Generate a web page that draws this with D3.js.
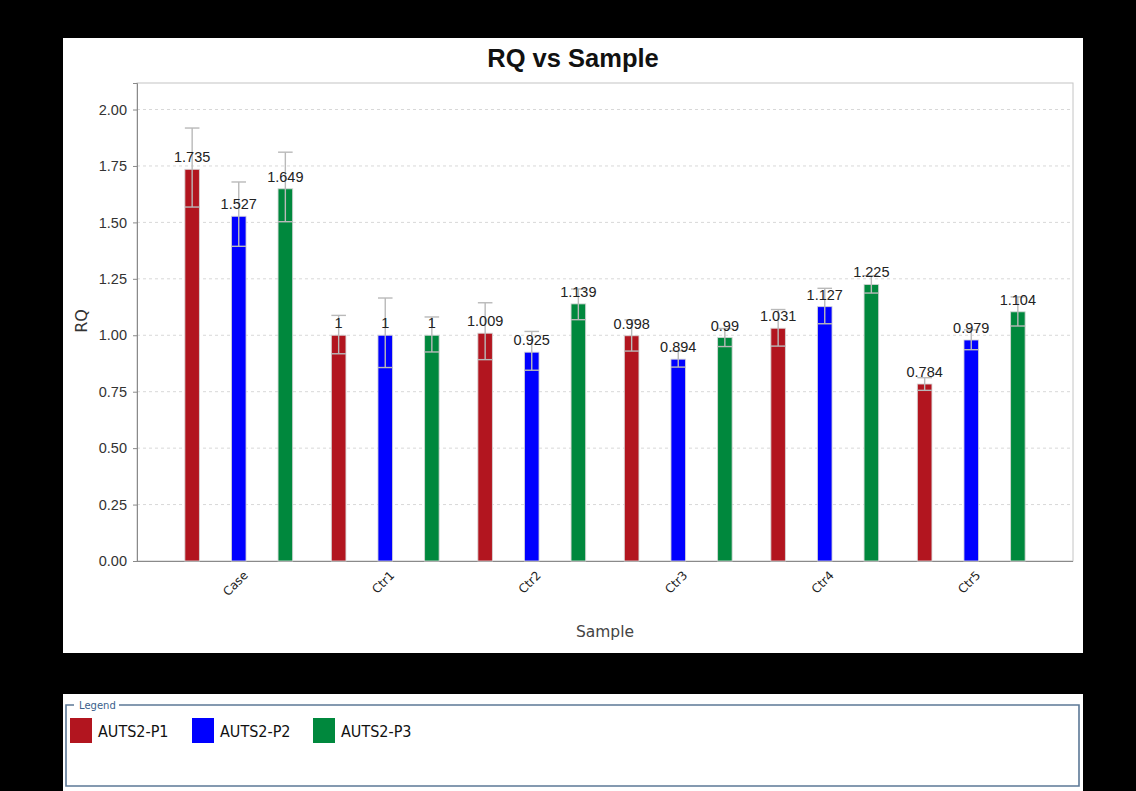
<!DOCTYPE html>
<html>
<head>
<meta charset="utf-8">
<script src="https://cdn.jsdelivr.net/npm/d3@7"></script>
<style>
  html, body { margin: 0; padding: 0; background: #000; }
  svg { display: block; }
</style>
</head>
<body>
<svg id="chart" width="1136" height="791"></svg>
<script>
// Samples along the x axis
const categories = ["Case", "Ctr1", "Ctr2", "Ctr3", "Ctr4", "Ctr5"];
// Targets (one bar per target in each sample)
const seriesNames = ["AUTS2-P1", "AUTS2-P2", "AUTS2-P3"];
const seriesColors = ["#b2151f", "#0000ff", "#00883d"];

// RQ values per target, in category order
const rqP1 = [1.735, 1, 1.009, 0.998, 1.031, 0.784];
const rqP2 = [1.527, 1, 0.925, 0.894, 1.127, 0.979];
const rqP3 = [1.649, 1, 1.139, 0.99, 1.225, 1.104];

// RQ min / max (error bar ends)
const rqMinP1 = [1.568, 0.918, 0.892, 0.930, 0.952, 0.756];
const rqMaxP1 = [1.918, 1.088, 1.144, 1.068, 1.114, 0.812];
const rqMinP2 = [1.394, 0.857, 0.845, 0.859, 1.051, 0.936];
const rqMaxP2 = [1.679, 1.165, 1.017, 0.931, 1.208, 1.024];
const rqMinP3 = [1.503, 0.926, 1.069, 0.950, 1.187, 1.041];
const rqMaxP3 = [1.811, 1.081, 1.205, 1.030, 1.264, 1.170];

const yTicks = [0, 0.25, 0.5, 0.75, 1.0, 1.25, 1.5, 1.75, 2.0];

const values = [rqP1, rqP2, rqP3];
const mins = [rqMinP1, rqMinP2, rqMinP3];
const maxs = [rqMaxP1, rqMaxP2, rqMaxP3];

const rows = [];
categories.forEach((c, ci) => {
  seriesNames.forEach((s, si) => {
    rows.push({ cat: c, series: s, si, value: values[si][ci], lo: mins[si][ci], hi: maxs[si][ci] });
  });
});

const svg = d3.select("#chart");

// Chart panel
svg.append("rect").attr("x", 63).attr("y", 38).attr("width", 1020).attr("height", 615).attr("fill", "#fff");

const plot = { left: 137, right: 1073, top: 83, bottom: 561 };

const y = d3.scaleLinear().domain([0, 2.1175]).range([plot.bottom, plot.top]);
const x0 = d3.scaleBand().domain(categories).range([plot.left + 28.5, plot.right - 28.5]);
const x1 = d3.scaleBand().domain(seriesNames).range([0, x0.bandwidth()])
  .paddingInner(0.687).paddingOuter(0.4155);
const color = d3.scaleOrdinal().domain(seriesNames).range(seriesColors);

// Title
svg.append("text")
  .attr("x", 573).attr("y", 67)
  .attr("text-anchor", "middle")
  .attr("font-family", "Liberation Sans, Arial, sans-serif")
  .attr("font-weight", "bold")
  .attr("font-size", 25.5)
  .attr("fill", "#111")
  .text("RQ vs Sample");

// Gridlines
svg.append("g").selectAll("line").data(yTicks.filter(d => d > 0)).join("line")
  .attr("x1", plot.left).attr("x2", plot.right)
  .attr("y1", d => y(d)).attr("y2", d => y(d))
  .attr("stroke", "#d8d8d8").attr("stroke-width", 1)
  .attr("stroke-dasharray", "3,3");

// Plot border
svg.append("rect")
  .attr("x", plot.left).attr("y", plot.top)
  .attr("width", plot.right - plot.left).attr("height", plot.bottom - plot.top)
  .attr("fill", "none").attr("stroke", "#c4c4c4").attr("stroke-width", 1);

// Y axis
const yAxis = d3.axisLeft(y).tickValues(yTicks).tickFormat(d3.format(".2f")).tickSize(4).tickPadding(6);
const gy = svg.append("g").attr("transform", `translate(${plot.left},0)`).call(yAxis);
gy.select(".domain").attr("stroke", "#8a8a8a");
gy.selectAll(".tick line").attr("stroke", "#8a8a8a");
gy.selectAll(".tick text")
  .attr("font-family", "Liberation Sans, Arial, sans-serif")
  .attr("font-size", 14.5).attr("fill", "#333");

// X axis
const xAxis = d3.axisBottom(x0).tickSize(0).tickPadding(0);
const gx = svg.append("g").attr("transform", `translate(0,${plot.bottom})`).call(xAxis);
gx.select(".domain").attr("stroke", "#8a8a8a").attr("d", `M${plot.left},0.5H${plot.right}`);
gx.selectAll(".tick text")
  .attr("font-family", "DejaVu Sans, sans-serif")
  .attr("font-size", 12).attr("fill", "#222")
  .attr("text-anchor", "end")
  .attr("dy", null).attr("y", 0)
  .attr("transform", "translate(10,15) rotate(-45)");

// Axis titles
svg.append("text")
  .attr("x", (plot.left + plot.right) / 2).attr("y", 637)
  .attr("text-anchor", "middle")
  .attr("font-family", "DejaVu Sans, sans-serif")
  .attr("font-size", 15.5).attr("fill", "#444")
  .text("Sample");
svg.append("text")
  .attr("transform", `translate(87,${(plot.top + plot.bottom) / 2 - 1}) rotate(-90)`)
  .attr("text-anchor", "middle")
  .attr("font-family", "DejaVu Sans, sans-serif")
  .attr("font-size", 16).attr("fill", "#333")
  .text("RQ");

// Bars
const bx = d => x0(d.cat) + x1(d.series);
const bw = x1.bandwidth();
svg.append("g").selectAll("rect").data(rows).join("rect")
  .attr("x", bx).attr("width", bw)
  .attr("y", d => y(d.value)).attr("height", d => y(0) - y(d.value))
  .attr("fill", d => color(d.series))
  .attr("stroke", "rgba(215,215,215,0.85)").attr("stroke-width", 1);

// Error bars
const eg = svg.append("g").attr("stroke", "#b9b9b9").attr("stroke-width", 1.4).attr("fill", "none");
rows.forEach(d => {
  const cx = bx(d) + bw / 2;
  eg.append("line").attr("x1", cx).attr("x2", cx).attr("y1", y(d.lo)).attr("y2", y(d.hi));
  eg.append("line").attr("x1", bx(d)).attr("x2", bx(d) + bw).attr("y1", y(d.lo)).attr("y2", y(d.lo));
  eg.append("line").attr("x1", bx(d)).attr("x2", bx(d) + bw).attr("y1", y(d.hi)).attr("y2", y(d.hi));
});

// Value labels
svg.append("g").selectAll("text").data(rows).join("text")
  .attr("x", d => bx(d) + bw / 2)
  .attr("y", d => y(d.value) - 7)
  .attr("text-anchor", "middle")
  .attr("font-family", "Liberation Sans, Arial, sans-serif")
  .attr("font-size", 14.5).attr("fill", "#222")
  .text(d => String(d.value));

// Legend panel
svg.append("rect").attr("x", 63).attr("y", 694).attr("width", 1020).attr("height", 97).attr("fill", "#fff");
const lb = { x: 66, y: 705, w: 1013, h: 81 };
const titleStart = 76, titleEnd = 119;
svg.append("path")
  .attr("d", `M${titleStart - 2},${lb.y}H${lb.x}V${lb.y + lb.h}H${lb.x + lb.w}V${lb.y}H${titleEnd}`)
  .attr("fill", "none").attr("stroke", "#5c7896").attr("stroke-width", 1.6);
svg.append("text")
  .attr("x", titleStart + 3).attr("y", lb.y + 4)
  .attr("font-family", "DejaVu Sans, sans-serif")
  .attr("font-size", 10).attr("fill", "#3a5f8c")
  .text("Legend");

const legendX = [70, 192, 313];
const lg = svg.append("g").selectAll("g").data(seriesNames).join("g")
  .attr("transform", (d, i) => `translate(${legendX[i]},718)`);
lg.append("rect").attr("width", 22).attr("height", 25).attr("fill", d => color(d));
lg.append("text")
  .attr("x", 28).attr("y", 19)
  .attr("font-family", "DejaVu Sans Condensed, DejaVu Sans, sans-serif")
  .attr("font-size", 16).attr("fill", "#111")
  .text(d => d);
</script>
</body>
</html>
